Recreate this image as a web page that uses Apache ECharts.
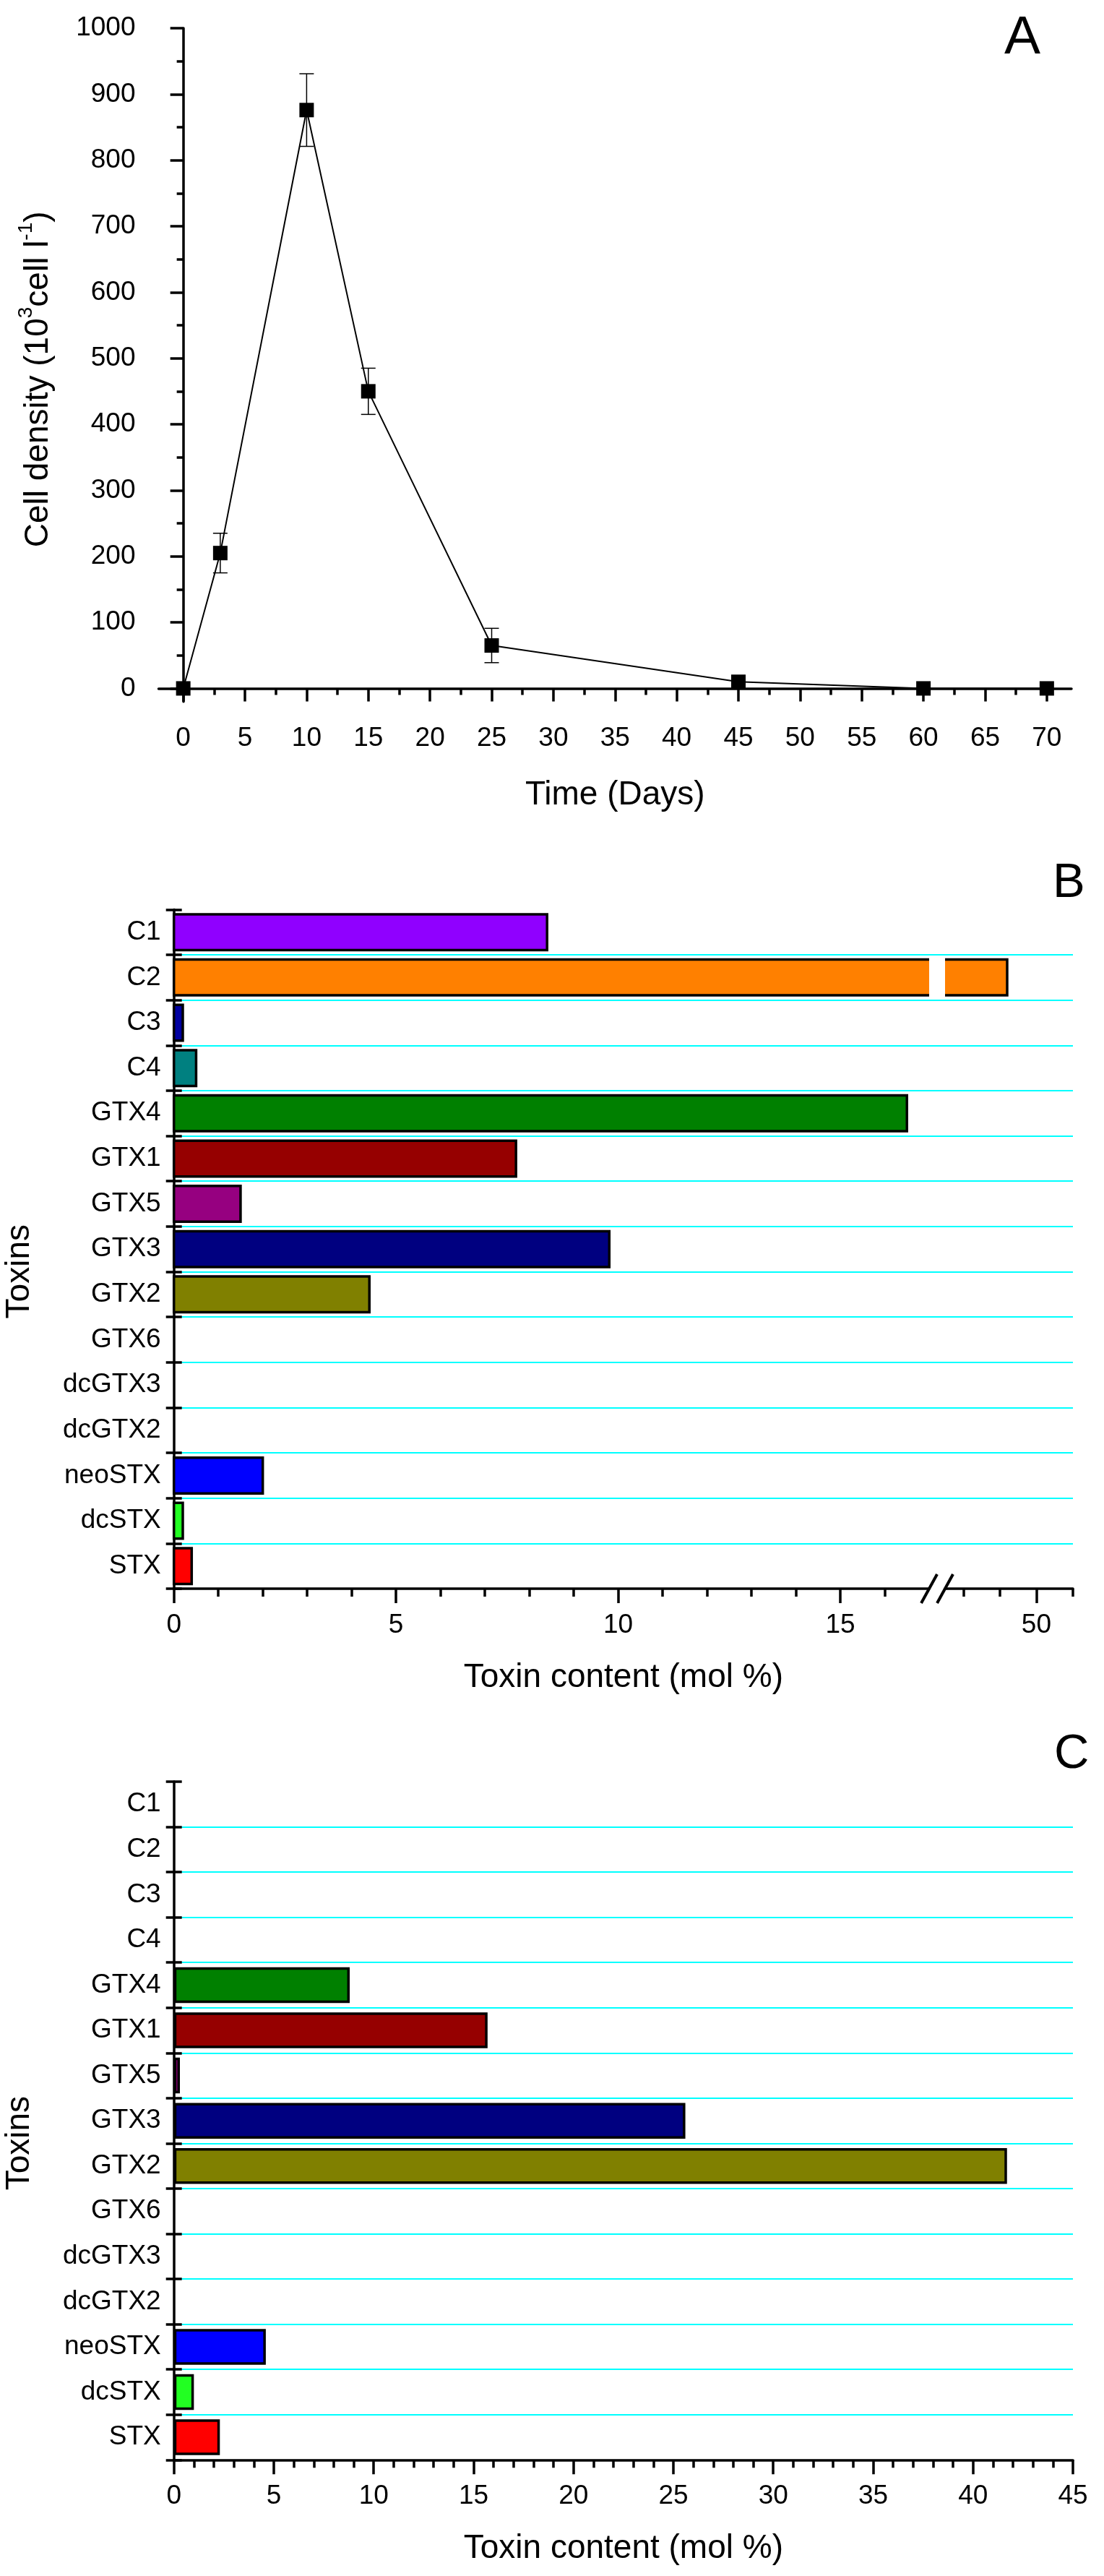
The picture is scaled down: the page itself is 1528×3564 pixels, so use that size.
<!DOCTYPE html>
<html>
<head>
<meta charset="utf-8">
<script src="https://cdn.jsdelivr.net/npm/echarts@6.0.0/dist/echarts.min.js"></script>
<style>
html,body{margin:0;padding:0;background:#ffffff;}
#c{width:1528px;height:3564px;}
</style>
</head>
<body>
<div id="c"></div>
<script>
// ---------- Panel A data ----------
const days = [0, 3, 10, 15, 25, 45, 60, 70];
const density = [0, 205, 876, 450, 65, 10, 0, 0];
const densityErr = [0, 30, 55, 35, 26, 0, 0, 0];
const timeTicks = [0, 5, 10, 15, 20, 25, 30, 35, 40, 45, 50, 55, 60, 65, 70];
const timeMinorTicks = [2.5, 7.5, 12.5, 17.5, 22.5, 27.5, 32.5, 37.5, 42.5, 47.5, 52.5, 57.5, 62.5, 67.5];
const densityTicks = [0, 100, 200, 300, 400, 500, 600, 700, 800, 900, 1000];
const densityMinorTicks = [50, 150, 250, 350, 450, 550, 650, 750, 850, 950];

// ---------- Panels B / C data ----------
const toxins = ['C1', 'C2', 'C3', 'C4', 'GTX4', 'GTX1', 'GTX5', 'GTX3', 'GTX2', 'GTX6', 'dcGTX3', 'dcGTX2', 'neoSTX', 'dcSTX', 'STX'];
const toxinColors = ['#9000FF', '#FF8000', '#0000A0', '#008080', '#008000', '#960000', '#960080', '#000080', '#808000', '#808080', '#808080', '#808080', '#0000FF', '#22FF22', '#FF0000'];
const contentB = [8.4, 49.2, 0.2, 0.5, 16.5, 7.7, 1.5, 9.8, 4.4, 0, 0, 0, 2.0, 0.2, 0.4];
const contentC = [0, 0, 0, 0, 8.8, 15.7, 0.3, 25.6, 41.7, 0, 0, 0, 4.6, 1.0, 2.3];
const bLeftTicks = [0, 5, 10, 15];
const bLeftMinorTicks = [1, 2, 3, 4, 6, 7, 8, 9, 11, 12, 13, 14, 16];
const bRightTicks = [50];
const bRightMinorTicks = [48, 49, 51];
const bLeftRange = [0, 17];
const bRightRange = [47.5, 51];

const FONT = '"Liberation Sans", Arial, Helvetica, sans-serif';
const BLACK = '#000000';
const AXW = 3.5;
const BARH = 49.5;

const chart = echarts.init(document.getElementById('c'), null, {renderer: 'canvas', width: 1528, height: 3564});

const lineStyleAxis = {show: true, lineStyle: {color: BLACK, width: AXW}};
const tickLabel = {color: BLACK, fontSize: 37, fontFamily: FONT, formatter: function (v) { return String(v); }};
const titleStyle = {color: BLACK, fontSize: 46, fontFamily: FONT};

function tickAxis(extra) {
  return Object.assign({
    type: 'value',
    splitLine: {show: false},
    axisLine: {show: false},
    axisLabel: {show: false},
    axisTick: {show: false}
  }, extra);
}
function ticks(values, len, inside) {
  return {show: true, customValues: values, length: len, inside: !!inside, lineStyle: {color: BLACK, width: AXW}};
}

const gridBase = {show: false, containLabel: false, outerBoundsMode: 'none'};
const grids = [
  Object.assign({left: 219.5, top: 39, width: 1263.5, height: 931.7}, gridBase),   // A
  Object.assign({left: 240.7, top: 1258.4, width: 1244.3, height: 939.6}, gridBase), // B frame
  Object.assign({left: 240.7, top: 1258.4, width: 1045.3, height: 939.6}, gridBase), // B left segment
  Object.assign({left: 1308, top: 1258.4, width: 177, height: 939.6}, gridBase),     // B right segment
  Object.assign({left: 240.7, top: 2465, width: 1244.3, height: 938.3}, gridBase)    // C
];

const xAxes = [
  // 0: A main
  tickAxis({gridIndex: 0, position: 'bottom', min: -2, max: 72,
    axisLine: lineStyleAxis, axisTick: ticks(timeTicks, 18),
    axisLabel: Object.assign({show: true, customValues: timeTicks, margin: 33}, tickLabel),
    name: 'Time (Days)', nameLocation: 'middle', nameGap: 107, nameTextStyle: titleStyle}),
  // 1: A minor
  tickAxis({gridIndex: 0, position: 'bottom', min: -2, max: 72,
    axisTick: ticks(timeMinorTicks, 9), axisLabel: {show: false, customValues: timeMinorTicks}}),
  // 2: B frame (title only)
  tickAxis({gridIndex: 1, position: 'bottom', min: 0, max: 1,
    name: 'Toxin content (mol %)', nameLocation: 'middle', nameGap: 100, nameTextStyle: titleStyle}),
  // 3: B left main
  tickAxis({gridIndex: 2, position: 'bottom', min: bLeftRange[0], max: bLeftRange[1],
    axisLine: lineStyleAxis, axisTick: ticks(bLeftTicks, 20),
    axisLabel: Object.assign({show: true, customValues: bLeftTicks, margin: 32}, tickLabel)}),
  // 4: B left minor
  tickAxis({gridIndex: 2, position: 'bottom', min: bLeftRange[0], max: bLeftRange[1],
    axisTick: ticks(bLeftMinorTicks, 11), axisLabel: {show: false, customValues: bLeftMinorTicks}}),
  // 5: B right main
  tickAxis({gridIndex: 3, position: 'bottom', min: bRightRange[0], max: bRightRange[1],
    axisLine: lineStyleAxis, axisTick: ticks(bRightTicks, 20),
    axisLabel: Object.assign({show: true, customValues: bRightTicks, margin: 32}, tickLabel)}),
  // 6: B right minor
  tickAxis({gridIndex: 3, position: 'bottom', min: bRightRange[0], max: bRightRange[1],
    axisTick: ticks(bRightMinorTicks, 11), axisLabel: {show: false, customValues: bRightMinorTicks}}),
  // 7: C
  {type: 'value', gridIndex: 4, position: 'bottom', min: 0, max: 45, interval: 5,
    axisLine: lineStyleAxis,
    axisTick: {show: true, length: 20, lineStyle: {color: BLACK, width: AXW}},
    minorTick: {show: true, splitNumber: 5, length: 11, lineStyle: {color: BLACK, width: AXW}},
    axisLabel: Object.assign({show: true, margin: 32}, tickLabel),
    splitLine: {show: false}, minorSplitLine: {show: false},
    name: 'Toxin content (mol %)', nameLocation: 'middle', nameGap: 100, nameTextStyle: titleStyle}
];

function catAxisMain(gridIndex) {
  return {type: 'category', gridIndex: gridIndex, position: 'left', data: toxins, inverse: true, boundaryGap: true,
    axisLine: lineStyleAxis,
    axisTick: {show: true, interval: 0, length: 11, lineStyle: {color: BLACK, width: AXW}},
    axisLabel: {show: true, interval: 0, margin: 18, color: BLACK, fontSize: 37, fontFamily: FONT},
    splitLine: {show: true, interval: 0, showMinLine: false, showMaxLine: false, lineStyle: {color: '#00FFFF', width: 2}},
    name: 'Toxins', nameLocation: 'middle', nameRotate: 90, nameGap: 190,
    nameTextStyle: Object.assign({padding: [0, 62, 0, 0]}, titleStyle)};
}
function catAxisInside(gridIndex) {
  return {type: 'category', gridIndex: gridIndex, position: 'left', data: toxins, inverse: true, boundaryGap: true,
    axisLine: {show: false},
    axisTick: {show: true, inside: true, interval: 0, length: 11, lineStyle: {color: BLACK, width: AXW}},
    axisLabel: {show: false}, splitLine: {show: false}};
}
function catAxisHidden(gridIndex) {
  return {type: 'category', gridIndex: gridIndex, position: 'left', data: toxins, inverse: true, boundaryGap: true, show: false};
}

const yAxes = [
  // 0: A main
  tickAxis({gridIndex: 0, position: 'left', min: -20, max: 1000,
    axisLine: lineStyleAxis, axisTick: ticks(densityTicks, 18),
    axisLabel: Object.assign({show: true, customValues: densityTicks, margin: 32}, tickLabel),
    name: '{n|Cell density (10}{s|3}{n|cell l}{s|-1}{n|)}', nameLocation: 'middle', nameRotate: 90, nameGap: 143,
    nameTextStyle: Object.assign({padding: [0, 40, 0, 0],
      rich: {
        n: {fontSize: 46, fontFamily: FONT, color: BLACK, lineHeight: 54, verticalAlign: 'bottom'},
        s: {fontSize: 28, fontFamily: FONT, color: BLACK, lineHeight: 30, verticalAlign: 'top'}
      }}, titleStyle)}),
  // 1: A minor
  tickAxis({gridIndex: 0, position: 'left', min: -20, max: 1000,
    axisTick: ticks(densityMinorTicks, 9), axisLabel: {show: false, customValues: densityMinorTicks}}),
  catAxisMain(1),     // 2
  catAxisInside(1),   // 3
  catAxisHidden(2),   // 4
  catAxisHidden(3),   // 5
  catAxisMain(4),     // 6
  catAxisInside(4)    // 7
];

// bar drawn through the library's scales, cut cleanly at the axis break
function brokenBar(params, api) {
  const v = api.value(0), ci = api.value(1);
  const cs = params.coordSys;
  const p0 = api.coord([0, ci]);
  const p1 = api.coord([v, ci]);
  const L = cs.x, R = cs.x + cs.width;
  const x0 = Math.max(p0[0], L), x1 = Math.min(p1[0], R);
  if (!(x1 > x0)) return null;
  const y0 = p1[1] - BARH / 2, y1 = p1[1] + BARH / 2;
  const leftCut = p0[0] < L - 0.5, rightCut = p1[0] > R + 0.5;
  const color = toxinColors[ci];
  const st = {stroke: BLACK, lineWidth: AXW, fill: null, lineJoin: 'miter'};
  const children = [{type: 'rect', shape: {x: x0, y: y0, width: x1 - x0, height: y1 - y0}, style: {fill: color}}];
  if (!leftCut && !rightCut) {
    children.push({type: 'rect', shape: {x: x0, y: y0, width: x1 - x0, height: y1 - y0}, style: st});
  } else if (rightCut && !leftCut) {
    children.push({type: 'polyline', shape: {points: [[x1, y0], [x0, y0], [x0, y1], [x1, y1]]}, style: st});
  } else if (leftCut && !rightCut) {
    children.push({type: 'polyline', shape: {points: [[x0, y0], [x1, y0], [x1, y1], [x0, y1]]}, style: st});
  } else {
    children.push({type: 'line', shape: {x1: x0, y1: y0, x2: x1, y2: y0}, style: st});
    children.push({type: 'line', shape: {x1: x0, y1: y1, x2: x1, y2: y1}, style: st});
  }
  return {type: 'group', children: children};
}

const barDataB = contentB.map((v, i) => [v, i]).filter(d => d[0] > 0);

const series = [
  {type: 'custom', xAxisIndex: 0, yAxisIndex: 0, silent: true, z: 3,
    encode: {x: 0, y: 1},
    data: days.map((d, i) => [d, density[i], densityErr[i]]),
    renderItem: function (params, api) {
      const x = api.value(0), y = api.value(1), e = api.value(2);
      if (!e) return null;
      const hi = api.coord([x, y + e]), lo = api.coord([x, y - e]);
      const w = 10;
      const st = {stroke: BLACK, lineWidth: 1.5};
      return {type: 'group', children: [
        {type: 'line', shape: {x1: hi[0], y1: hi[1], x2: lo[0], y2: lo[1]}, style: st},
        {type: 'line', shape: {x1: hi[0] - w, y1: hi[1], x2: hi[0] + w, y2: hi[1]}, style: st},
        {type: 'line', shape: {x1: lo[0] - w, y1: lo[1], x2: lo[0] + w, y2: lo[1]}, style: st}
      ]};
    }},
  {type: 'line', xAxisIndex: 0, yAxisIndex: 0, z: 4,
    data: days.map((d, i) => [d, density[i]]),
    symbol: 'rect', symbolSize: 20, showAllSymbol: true,
    itemStyle: {color: BLACK}, lineStyle: {color: BLACK, width: 2}, clip: false},
  {type: 'custom', xAxisIndex: 3, yAxisIndex: 4, encode: {x: 0, y: 1}, data: barDataB, renderItem: brokenBar, z: 3},
  {type: 'custom', xAxisIndex: 5, yAxisIndex: 5, encode: {x: 0, y: 1},
    data: barDataB.filter(d => d[0] > bRightRange[0]), renderItem: brokenBar, z: 3},
  {type: 'bar', xAxisIndex: 7, yAxisIndex: 6, barWidth: BARH, z: 3,
    data: contentC.map((v, i) => v > 0 ? {value: v, itemStyle: {color: toxinColors[i]}} : '-'),
    itemStyle: {borderColor: BLACK, borderWidth: AXW}}
];

const option = {
  backgroundColor: '#ffffff',
  animation: false,
  textStyle: {fontFamily: FONT},
  title: [
    {text: 'A', left: 1390, top: 16, padding: 0, textStyle: {fontSize: 75, fontWeight: 'normal', fontFamily: FONT, color: BLACK}},
    {text: 'B', left: 1457, top: 1189, padding: 0, textStyle: {fontSize: 67, fontWeight: 'normal', fontFamily: FONT, color: BLACK}},
    {text: 'C', left: 1459, top: 2394, padding: 0, textStyle: {fontSize: 67, fontWeight: 'normal', fontFamily: FONT, color: BLACK}}
  ],
  grid: grids,
  xAxis: xAxes,
  yAxis: yAxes,
  series: series
};
chart.setOption(option);

// axis break marks "//" placed from the axes' own scales
(function () {
  const xa = chart.convertToPixel({xAxisIndex: 3}, bLeftRange[1]);
  const xb = chart.convertToPixel({xAxisIndex: 5}, bRightRange[0]);
  const yLast = chart.convertToPixel({yAxisIndex: 4}, toxins.length - 1);
  const yPrev = chart.convertToPixel({yAxisIndex: 4}, toxins.length - 2);
  const yAxisLine = yLast + (yLast - yPrev) / 2;
  const st = {stroke: BLACK, lineWidth: 4};
  chart.setOption({graphic: [
    {type: 'line', shape: {x1: xa - 11, y1: yAxisLine + 20, x2: xa + 11, y2: yAxisLine - 20}, style: st, z: 10},
    {type: 'line', shape: {x1: xb - 11, y1: yAxisLine + 20, x2: xb + 11, y2: yAxisLine - 20}, style: st, z: 10}
  ]});
})();
</script>
</body>
</html>
